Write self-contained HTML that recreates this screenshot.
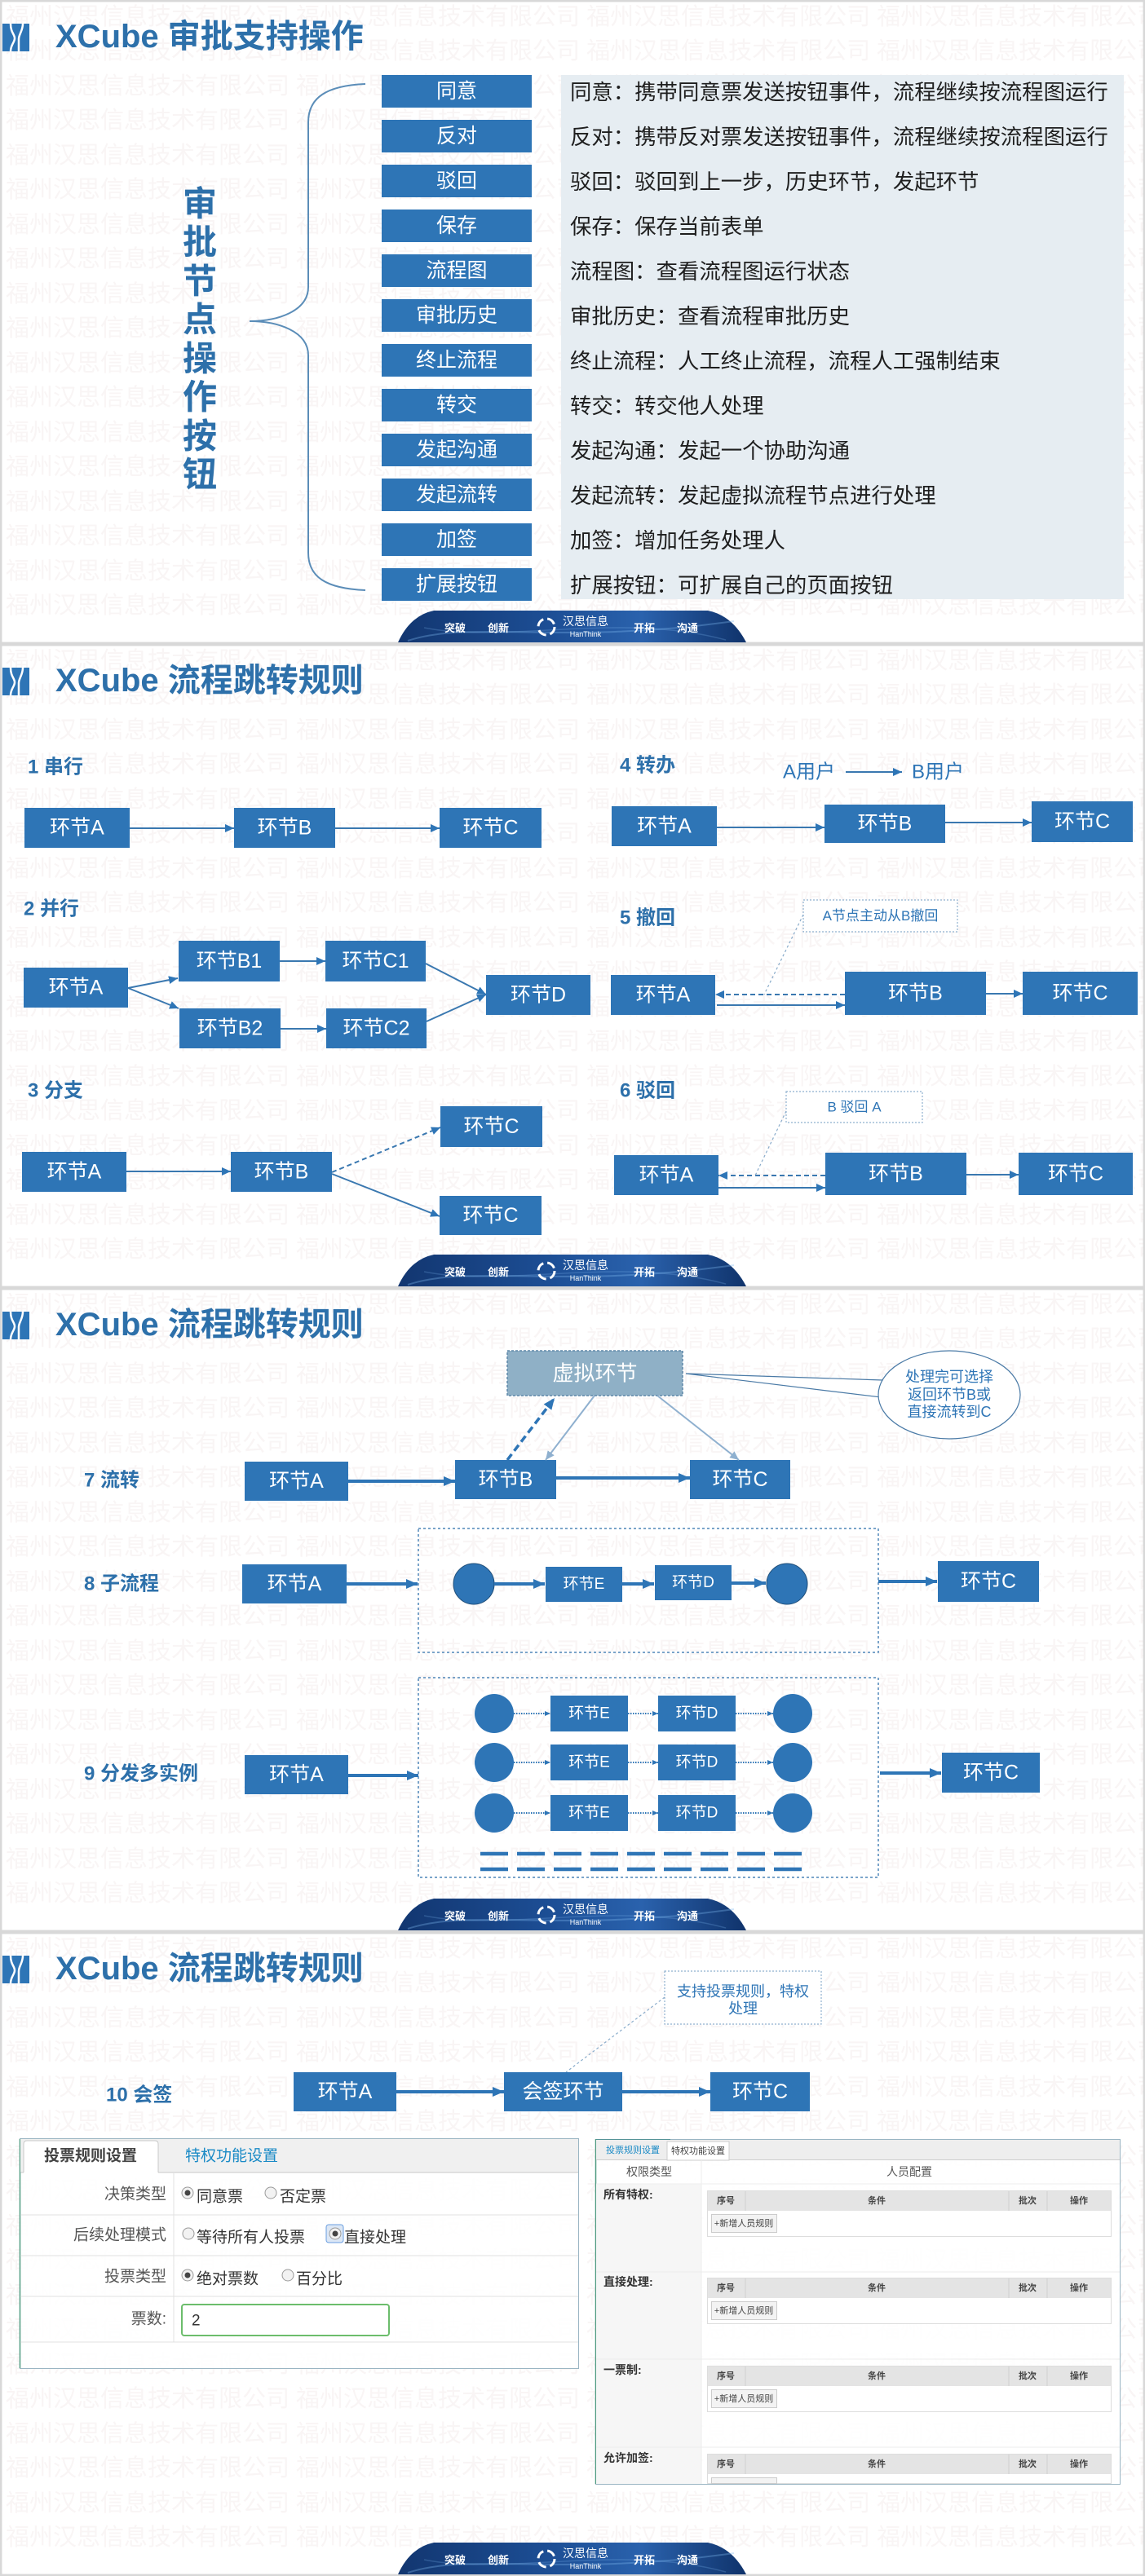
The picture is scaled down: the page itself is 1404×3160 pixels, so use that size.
<!DOCTYPE html>
<html><head><meta charset="utf-8">
<style>
html,body{margin:0;padding:0;background:#fff;}
body{width:1404px;height:3160px;overflow:hidden;}
svg{display:block;}
text{font-family:"Liberation Sans","Noto Sans CJK SC",sans-serif;}
.wm{font-size:29px;fill:#f9f5f5;}
.ttl{font-size:40px;font-weight:bold;fill:#2D70AA;}
.sec{font-size:24px;font-weight:bold;fill:#2D70AA;}
.bx{fill:#2E75B6;}
.bt{font-size:25px;fill:#fff;text-anchor:middle;}
.bts{font-size:19px;fill:#fff;text-anchor:middle;}
.ln{stroke:#3A78B0;stroke-width:2;fill:none;}
.lnT{stroke:#2E75B6;stroke-width:4;fill:none;}
.lnD{stroke:#3A78B0;stroke-width:2;fill:none;stroke-dasharray:6,4;}
.lead{stroke:#8aaccb;stroke-width:1.2;fill:none;stroke-dasharray:3,3;}
.call{fill:#fff;stroke:#8fb0cf;stroke-width:1.2;stroke-dasharray:2,2;}
.ct{font-size:17px;fill:#2E75B6;text-anchor:middle;}
.pt{font-size:26.4px;fill:#1e1e1e;}
.ft{font-size:13px;font-weight:bold;fill:#fff;text-anchor:middle;}
.fl{font-size:19px;fill:#555;}
.fs{font-size:11px;fill:#444;}
</style></head><body>
<svg width="1404" height="3160" viewBox="0 0 1404 3160" xmlns="http://www.w3.org/2000/svg">
<defs>
<marker id="ah" markerUnits="userSpaceOnUse" markerWidth="11" markerHeight="10" refX="11" refY="5" orient="auto" viewBox="0 0 11 10"><path d="M0,0 L11,5 L0,10 z" fill="#2E75B6"/></marker>
<marker id="ahL" markerUnits="userSpaceOnUse" markerWidth="14" markerHeight="12" refX="14" refY="6" orient="auto" viewBox="0 0 14 12"><path d="M0,0 L14,6 L0,12 z" fill="#2E75B6"/></marker>
<marker id="ahG" markerUnits="userSpaceOnUse" markerWidth="11" markerHeight="10" refX="11" refY="5" orient="auto" viewBox="0 0 11 10"><path d="M0,0 L11,5 L0,10 z" fill="#8fb0cf"/></marker>
<marker id="ahS" markerUnits="userSpaceOnUse" markerWidth="7" markerHeight="6" refX="7" refY="3" orient="auto" viewBox="0 0 7 6"><path d="M0,0 L7,3 L0,6 z" fill="#2E75B6"/></marker>
<linearGradient id="fg" x1="0" y1="0" x2="1" y2="0">
<stop offset="0" stop-color="#123670"/><stop offset="0.45" stop-color="#1d4f96"/><stop offset="0.7" stop-color="#2a62ad"/><stop offset="1" stop-color="#10336b"/>
</linearGradient>
</defs>

<!-- ================= SLIDE 1 ================= -->
<g transform="translate(0,0)">
<text class="wm" x="7" y="30">福州汉思信息技术有限公司  福州汉思信息技术有限公司  福州汉思信息技术有限公司  福州汉思信息技术有限公司</text>
<text class="wm" x="7" y="72">福州汉思信息技术有限公司  福州汉思信息技术有限公司  福州汉思信息技术有限公司  福州汉思信息技术有限公司</text>
<text class="wm" x="7" y="115">福州汉思信息技术有限公司  福州汉思信息技术有限公司  福州汉思信息技术有限公司  福州汉思信息技术有限公司</text>
<text class="wm" x="7" y="157">福州汉思信息技术有限公司  福州汉思信息技术有限公司  福州汉思信息技术有限公司  福州汉思信息技术有限公司</text>
<text class="wm" x="7" y="200">福州汉思信息技术有限公司  福州汉思信息技术有限公司  福州汉思信息技术有限公司  福州汉思信息技术有限公司</text>
<text class="wm" x="7" y="242">福州汉思信息技术有限公司  福州汉思信息技术有限公司  福州汉思信息技术有限公司  福州汉思信息技术有限公司</text>
<text class="wm" x="7" y="285">福州汉思信息技术有限公司  福州汉思信息技术有限公司  福州汉思信息技术有限公司  福州汉思信息技术有限公司</text>
<text class="wm" x="7" y="327">福州汉思信息技术有限公司  福州汉思信息技术有限公司  福州汉思信息技术有限公司  福州汉思信息技术有限公司</text>
<text class="wm" x="7" y="370">福州汉思信息技术有限公司  福州汉思信息技术有限公司  福州汉思信息技术有限公司  福州汉思信息技术有限公司</text>
<text class="wm" x="7" y="412">福州汉思信息技术有限公司  福州汉思信息技术有限公司  福州汉思信息技术有限公司  福州汉思信息技术有限公司</text>
<text class="wm" x="7" y="455">福州汉思信息技术有限公司  福州汉思信息技术有限公司  福州汉思信息技术有限公司  福州汉思信息技术有限公司</text>
<text class="wm" x="7" y="497">福州汉思信息技术有限公司  福州汉思信息技术有限公司  福州汉思信息技术有限公司  福州汉思信息技术有限公司</text>
<text class="wm" x="7" y="540">福州汉思信息技术有限公司  福州汉思信息技术有限公司  福州汉思信息技术有限公司  福州汉思信息技术有限公司</text>
<text class="wm" x="7" y="582">福州汉思信息技术有限公司  福州汉思信息技术有限公司  福州汉思信息技术有限公司  福州汉思信息技术有限公司</text>
<text class="wm" x="7" y="625">福州汉思信息技术有限公司  福州汉思信息技术有限公司  福州汉思信息技术有限公司  福州汉思信息技术有限公司</text>
<text class="wm" x="7" y="667">福州汉思信息技术有限公司  福州汉思信息技术有限公司  福州汉思信息技术有限公司  福州汉思信息技术有限公司</text>
<text class="wm" x="7" y="710">福州汉思信息技术有限公司  福州汉思信息技术有限公司  福州汉思信息技术有限公司  福州汉思信息技术有限公司</text>
<text class="wm" x="7" y="752">福州汉思信息技术有限公司  福州汉思信息技术有限公司  福州汉思信息技术有限公司  福州汉思信息技术有限公司</text>
<rect x="1.2" y="1.2" width="1401.6" height="787.6" fill="none" stroke="#d8d8d8" stroke-width="2.5"/>
<rect x="3" y="29" width="33" height="34" fill="#2E75B6"/>
<path d="M13,29 C13,40 18,42 18,47 C18,52 13,55 13,63" stroke="#fff" stroke-width="2.5" fill="none"/>
<path d="M28,29 C28,38 23,42 23,48 L23,63" stroke="#fff" stroke-width="2.5" fill="none"/>
<text class="ttl" x="68" y="58">XCube 审批支持操作</text>

<g style="font-size:42px;font-weight:bold;fill:#2D70AA;text-anchor:middle;" dominant-baseline="central">
<text x="245" y="250">审</text><text x="245" y="297">批</text><text x="245" y="345">节</text><text x="245" y="392">点</text>
<text x="245" y="440">操</text><text x="245" y="487">作</text><text x="245" y="535">按</text><text x="245" y="582">钮</text>
</g>
<path d="M448,103 C400,105 378,120 378,150 L378,352 C378,382 340,394 306,394 C340,394 378,406 378,436 L378,678 C378,708 400,722 448,724" stroke="#5b8db8" stroke-width="2" fill="none"/>

<g dominant-baseline="central">
<rect class="bx" x="468" y="92" width="184" height="40"/><text class="bt" x="560" y="112">同意</text>
<rect class="bx" x="468" y="147" width="184" height="40"/><text class="bt" x="560" y="167">反对</text>
<rect class="bx" x="468" y="202" width="184" height="40"/><text class="bt" x="560" y="222">驳回</text>
<rect class="bx" x="468" y="257" width="184" height="40"/><text class="bt" x="560" y="277">保存</text>
<rect class="bx" x="468" y="312" width="184" height="40"/><text class="bt" x="560" y="332">流程图</text>
<rect class="bx" x="468" y="367" width="184" height="40"/><text class="bt" x="560" y="387">审批历史</text>
<rect class="bx" x="468" y="422" width="184" height="40"/><text class="bt" x="560" y="442">终止流程</text>
<rect class="bx" x="468" y="477" width="184" height="40"/><text class="bt" x="560" y="497">转交</text>
<rect class="bx" x="468" y="532" width="184" height="40"/><text class="bt" x="560" y="552">发起沟通</text>
<rect class="bx" x="468" y="587" width="184" height="40"/><text class="bt" x="560" y="607">发起流转</text>
<rect class="bx" x="468" y="642" width="184" height="40"/><text class="bt" x="560" y="662">加签</text>
<rect class="bx" x="468" y="697" width="184" height="40"/><text class="bt" x="560" y="717">扩展按钮</text>
</g>
<rect x="688" y="92" width="690" height="643" fill="#e5ecf1" fill-opacity="0.95"/>
<g dominant-baseline="central">
<text class="pt" x="699" y="113">同意：携带同意票发送按钮事件，流程继续按流程图运行</text>
<text class="pt" x="699" y="168">反对：携带反对票发送按钮事件，流程继续按流程图运行</text>
<text class="pt" x="699" y="223">驳回：驳回到上一步，历史环节，发起环节</text>
<text class="pt" x="699" y="278">保存：保存当前表单</text>
<text class="pt" x="699" y="333">流程图：查看流程图运行状态</text>
<text class="pt" x="699" y="388">审批历史：查看流程审批历史</text>
<text class="pt" x="699" y="443">终止流程：人工终止流程，流程人工强制结束</text>
<text class="pt" x="699" y="498">转交：转交他人处理</text>
<text class="pt" x="699" y="553">发起沟通：发起一个协助沟通</text>
<text class="pt" x="699" y="608">发起流转：发起虚拟流程节点进行处理</text>
<text class="pt" x="699" y="663">加签：增加任务处理人</text>
<text class="pt" x="699" y="718">扩展按钮：可扩展自己的页面按钮</text>
</g>
<!-- footer -->
<path d="M488,788 Q503,755 532,749 L868,749 Q898,755 915,788 Z" fill="url(#fg)"/>
<path d="M500,786 C580,760 690,792 900,762" stroke="#7fb6ee" stroke-opacity="0.35" stroke-width="2" fill="none"/>
<path d="M520,770 C620,790 760,750 890,785" stroke="#7fb6ee" stroke-opacity="0.25" stroke-width="1.5" fill="none"/>
<text class="ft" x="558" y="775">突破</text><text class="ft" x="611" y="775">创新</text>
<circle cx="670" cy="769" r="10" fill="none" stroke="#fff" stroke-width="3" stroke-dasharray="11,5"/>
<text x="718" y="767" style="font-size:14px;fill:#fff;text-anchor:middle;">汉思信息</text>
<text x="718" y="781" style="font-size:9px;fill:#fff;text-anchor:middle;">HanThink</text>
<text class="ft" x="790" y="775">开拓</text><text class="ft" x="843" y="775">沟通</text>
</g>

<!-- ================= SLIDE 2 ================= -->
<g transform="translate(0,790)">
<text class="wm" x="7" y="30">福州汉思信息技术有限公司  福州汉思信息技术有限公司  福州汉思信息技术有限公司  福州汉思信息技术有限公司</text>
<text class="wm" x="7" y="72">福州汉思信息技术有限公司  福州汉思信息技术有限公司  福州汉思信息技术有限公司  福州汉思信息技术有限公司</text>
<text class="wm" x="7" y="115">福州汉思信息技术有限公司  福州汉思信息技术有限公司  福州汉思信息技术有限公司  福州汉思信息技术有限公司</text>
<text class="wm" x="7" y="157">福州汉思信息技术有限公司  福州汉思信息技术有限公司  福州汉思信息技术有限公司  福州汉思信息技术有限公司</text>
<text class="wm" x="7" y="200">福州汉思信息技术有限公司  福州汉思信息技术有限公司  福州汉思信息技术有限公司  福州汉思信息技术有限公司</text>
<text class="wm" x="7" y="242">福州汉思信息技术有限公司  福州汉思信息技术有限公司  福州汉思信息技术有限公司  福州汉思信息技术有限公司</text>
<text class="wm" x="7" y="285">福州汉思信息技术有限公司  福州汉思信息技术有限公司  福州汉思信息技术有限公司  福州汉思信息技术有限公司</text>
<text class="wm" x="7" y="327">福州汉思信息技术有限公司  福州汉思信息技术有限公司  福州汉思信息技术有限公司  福州汉思信息技术有限公司</text>
<text class="wm" x="7" y="370">福州汉思信息技术有限公司  福州汉思信息技术有限公司  福州汉思信息技术有限公司  福州汉思信息技术有限公司</text>
<text class="wm" x="7" y="412">福州汉思信息技术有限公司  福州汉思信息技术有限公司  福州汉思信息技术有限公司  福州汉思信息技术有限公司</text>
<text class="wm" x="7" y="455">福州汉思信息技术有限公司  福州汉思信息技术有限公司  福州汉思信息技术有限公司  福州汉思信息技术有限公司</text>
<text class="wm" x="7" y="497">福州汉思信息技术有限公司  福州汉思信息技术有限公司  福州汉思信息技术有限公司  福州汉思信息技术有限公司</text>
<text class="wm" x="7" y="540">福州汉思信息技术有限公司  福州汉思信息技术有限公司  福州汉思信息技术有限公司  福州汉思信息技术有限公司</text>
<text class="wm" x="7" y="582">福州汉思信息技术有限公司  福州汉思信息技术有限公司  福州汉思信息技术有限公司  福州汉思信息技术有限公司</text>
<text class="wm" x="7" y="625">福州汉思信息技术有限公司  福州汉思信息技术有限公司  福州汉思信息技术有限公司  福州汉思信息技术有限公司</text>
<text class="wm" x="7" y="667">福州汉思信息技术有限公司  福州汉思信息技术有限公司  福州汉思信息技术有限公司  福州汉思信息技术有限公司</text>
<text class="wm" x="7" y="710">福州汉思信息技术有限公司  福州汉思信息技术有限公司  福州汉思信息技术有限公司  福州汉思信息技术有限公司</text>
<text class="wm" x="7" y="752">福州汉思信息技术有限公司  福州汉思信息技术有限公司  福州汉思信息技术有限公司  福州汉思信息技术有限公司</text>
<rect x="1.2" y="1.2" width="1401.6" height="787.6" fill="none" stroke="#d8d8d8" stroke-width="2.5"/>
<rect x="3" y="29" width="33" height="34" fill="#2E75B6"/>
<path d="M13,29 C13,40 18,42 18,47 C18,52 13,55 13,63" stroke="#fff" stroke-width="2.5" fill="none"/>
<path d="M28,29 C28,38 23,42 23,48 L23,63" stroke="#fff" stroke-width="2.5" fill="none"/>
<text class="ttl" x="68" y="58">XCube 流程跳转规则</text>

<g dominant-baseline="central">
<text class="sec" x="34" y="151">1 串行</text>
<text class="sec" x="29" y="325">2 并行</text>
<text class="sec" x="34" y="548">3 分支</text>
<text class="sec" x="760" y="149">4 转办</text>
<text class="sec" x="760" y="336">5 撤回</text>
<text class="sec" x="760" y="548">6 驳回</text>

<rect class="bx" x="30" y="201" width="129" height="49"/><text class="bt" x="94.5" y="225.5">环节A</text>
<rect class="bx" x="287" y="201" width="124" height="49"/><text class="bt" x="349" y="225.5">环节B</text>
<rect class="bx" x="539" y="201" width="125" height="49"/><text class="bt" x="601.5" y="225.5">环节C</text>

<rect class="bx" x="29" y="397" width="128" height="49"/><text class="bt" x="93" y="421.5">环节A</text>
<rect class="bx" x="219" y="364" width="124" height="50"/><text class="bt" x="281" y="389">环节B1</text>
<rect class="bx" x="220" y="447" width="124" height="49"/><text class="bt" x="282" y="471.5">环节B2</text>
<rect class="bx" x="399" y="364" width="123" height="50"/><text class="bt" x="460.5" y="389">环节C1</text>
<rect class="bx" x="400" y="447" width="123" height="49"/><text class="bt" x="461.5" y="471.5">环节C2</text>
<rect class="bx" x="596" y="406" width="128" height="49"/><text class="bt" x="660" y="430.5">环节D</text>

<rect class="bx" x="27" y="623" width="128" height="49"/><text class="bt" x="91" y="647.5">环节A</text>
<rect class="bx" x="283" y="623" width="124" height="49"/><text class="bt" x="345" y="647.5">环节B</text>
<rect class="bx" x="540" y="567" width="125" height="50"/><text class="bt" x="602.5" y="592">环节C</text>
<rect class="bx" x="539" y="677" width="125" height="48"/><text class="bt" x="601.5" y="701">环节C</text>

<text x="960" y="157" style="font-size:24px;fill:#2E75B6;">A用户</text>
<text x="1118" y="157" style="font-size:24px;fill:#2E75B6;">B用户</text>
<rect class="bx" x="750" y="199" width="129" height="49"/><text class="bt" x="814.5" y="223.5">环节A</text>
<rect class="bx" x="1011" y="197" width="148" height="47"/><text class="bt" x="1085" y="220.5">环节B</text>
<rect class="bx" x="1265" y="193" width="124" height="50"/><text class="bt" x="1327" y="218">环节C</text>

<rect class="call" x="985" y="314" width="189" height="39"/><text class="ct" x="1079.5" y="333.5">A节点主动从B撤回</text>
<rect class="bx" x="749" y="406" width="128" height="49"/><text class="bt" x="813" y="430.5">环节A</text>
<rect class="bx" x="1036" y="402" width="173" height="53"/><text class="bt" x="1122.5" y="428.5">环节B</text>
<rect class="bx" x="1254" y="402" width="141" height="53"/><text class="bt" x="1324.5" y="428.5">环节C</text>

<rect class="call" x="964" y="549" width="167" height="38"/><text class="ct" x="1047.5" y="568">B 驳回 A</text>
<rect class="bx" x="753" y="627" width="128" height="49"/><text class="bt" x="817" y="651.5">环节A</text>
<rect class="bx" x="1012" y="624" width="173" height="52"/><text class="bt" x="1098.5" y="650">环节B</text>
<rect class="bx" x="1249" y="624" width="140" height="52"/><text class="bt" x="1319" y="650">环节C</text>
</g>
<line class="ln" x1="159" y1="226" x2="287" y2="226" marker-end="url(#ah)"/>
<line class="ln" x1="411" y1="226" x2="539" y2="226" marker-end="url(#ah)"/>
<line class="ln" x1="157" y1="422" x2="218" y2="410" marker-end="url(#ah)"/>
<line class="ln" x1="157" y1="422" x2="219" y2="447" marker-end="url(#ah)"/>
<line class="ln" x1="343" y1="389" x2="399" y2="389" marker-end="url(#ah)"/>
<line class="ln" x1="344" y1="472" x2="400" y2="472" marker-end="url(#ah)"/>
<line class="ln" x1="522" y1="392" x2="596" y2="430" marker-end="url(#ah)"/>
<line class="ln" x1="523" y1="463" x2="596" y2="430" marker-end="url(#ah)"/>
<line class="ln" x1="155" y1="647" x2="283" y2="647" marker-end="url(#ah)"/>
<line class="lnD" x1="407" y1="648" x2="540" y2="593" marker-end="url(#ah)"/>
<line class="ln" x1="407" y1="650" x2="539" y2="702" marker-end="url(#ah)"/>
<line class="ln" x1="1037" y1="157" x2="1106" y2="157" marker-end="url(#ah)"/>
<line class="ln" x1="879" y1="225" x2="1011" y2="225" marker-end="url(#ah)"/>
<line class="ln" x1="1159" y1="219" x2="1265" y2="219" marker-end="url(#ah)"/>
<line class="lnD" x1="1036" y1="430" x2="877" y2="430" marker-end="url(#ah)"/>
<line class="ln" x1="879" y1="443" x2="1036" y2="443" marker-end="url(#ah)"/>
<line class="ln" x1="1209" y1="429" x2="1254" y2="429" marker-end="url(#ah)"/>
<line class="lead" x1="985" y1="332" x2="937" y2="430"/>
<line class="lnD" x1="1012" y1="652" x2="881" y2="652" marker-end="url(#ah)"/>
<line class="ln" x1="881" y1="667" x2="1012" y2="667" marker-end="url(#ah)"/>
<line class="ln" x1="1185" y1="651" x2="1249" y2="651" marker-end="url(#ah)"/>
<line class="lead" x1="964" y1="573" x2="926" y2="652"/>
<path d="M488,788 Q503,755 532,749 L868,749 Q898,755 915,788 Z" fill="url(#fg)"/>
<path d="M500,786 C580,760 690,792 900,762" stroke="#7fb6ee" stroke-opacity="0.35" stroke-width="2" fill="none"/>
<path d="M520,770 C620,790 760,750 890,785" stroke="#7fb6ee" stroke-opacity="0.25" stroke-width="1.5" fill="none"/>
<text class="ft" x="558" y="775">突破</text><text class="ft" x="611" y="775">创新</text>
<circle cx="670" cy="769" r="10" fill="none" stroke="#fff" stroke-width="3" stroke-dasharray="11,5"/>
<text x="718" y="767" style="font-size:14px;fill:#fff;text-anchor:middle;">汉思信息</text>
<text x="718" y="781" style="font-size:9px;fill:#fff;text-anchor:middle;">HanThink</text>
<text class="ft" x="790" y="775">开拓</text><text class="ft" x="843" y="775">沟通</text>
</g>

<!-- ================= SLIDE 3 ================= -->
<g transform="translate(0,1580)">
<text class="wm" x="7" y="30">福州汉思信息技术有限公司  福州汉思信息技术有限公司  福州汉思信息技术有限公司  福州汉思信息技术有限公司</text>
<text class="wm" x="7" y="72">福州汉思信息技术有限公司  福州汉思信息技术有限公司  福州汉思信息技术有限公司  福州汉思信息技术有限公司</text>
<text class="wm" x="7" y="115">福州汉思信息技术有限公司  福州汉思信息技术有限公司  福州汉思信息技术有限公司  福州汉思信息技术有限公司</text>
<text class="wm" x="7" y="157">福州汉思信息技术有限公司  福州汉思信息技术有限公司  福州汉思信息技术有限公司  福州汉思信息技术有限公司</text>
<text class="wm" x="7" y="200">福州汉思信息技术有限公司  福州汉思信息技术有限公司  福州汉思信息技术有限公司  福州汉思信息技术有限公司</text>
<text class="wm" x="7" y="242">福州汉思信息技术有限公司  福州汉思信息技术有限公司  福州汉思信息技术有限公司  福州汉思信息技术有限公司</text>
<text class="wm" x="7" y="285">福州汉思信息技术有限公司  福州汉思信息技术有限公司  福州汉思信息技术有限公司  福州汉思信息技术有限公司</text>
<text class="wm" x="7" y="327">福州汉思信息技术有限公司  福州汉思信息技术有限公司  福州汉思信息技术有限公司  福州汉思信息技术有限公司</text>
<text class="wm" x="7" y="370">福州汉思信息技术有限公司  福州汉思信息技术有限公司  福州汉思信息技术有限公司  福州汉思信息技术有限公司</text>
<text class="wm" x="7" y="412">福州汉思信息技术有限公司  福州汉思信息技术有限公司  福州汉思信息技术有限公司  福州汉思信息技术有限公司</text>
<text class="wm" x="7" y="455">福州汉思信息技术有限公司  福州汉思信息技术有限公司  福州汉思信息技术有限公司  福州汉思信息技术有限公司</text>
<text class="wm" x="7" y="497">福州汉思信息技术有限公司  福州汉思信息技术有限公司  福州汉思信息技术有限公司  福州汉思信息技术有限公司</text>
<text class="wm" x="7" y="540">福州汉思信息技术有限公司  福州汉思信息技术有限公司  福州汉思信息技术有限公司  福州汉思信息技术有限公司</text>
<text class="wm" x="7" y="582">福州汉思信息技术有限公司  福州汉思信息技术有限公司  福州汉思信息技术有限公司  福州汉思信息技术有限公司</text>
<text class="wm" x="7" y="625">福州汉思信息技术有限公司  福州汉思信息技术有限公司  福州汉思信息技术有限公司  福州汉思信息技术有限公司</text>
<text class="wm" x="7" y="667">福州汉思信息技术有限公司  福州汉思信息技术有限公司  福州汉思信息技术有限公司  福州汉思信息技术有限公司</text>
<text class="wm" x="7" y="710">福州汉思信息技术有限公司  福州汉思信息技术有限公司  福州汉思信息技术有限公司  福州汉思信息技术有限公司</text>
<text class="wm" x="7" y="752">福州汉思信息技术有限公司  福州汉思信息技术有限公司  福州汉思信息技术有限公司  福州汉思信息技术有限公司</text>
<rect x="1.2" y="1.2" width="1401.6" height="787.6" fill="none" stroke="#d8d8d8" stroke-width="2.5"/>
<rect x="3" y="29" width="33" height="34" fill="#2E75B6"/>
<path d="M13,29 C13,40 18,42 18,47 C18,52 13,55 13,63" stroke="#fff" stroke-width="2.5" fill="none"/>
<path d="M28,29 C28,38 23,42 23,48 L23,63" stroke="#fff" stroke-width="2.5" fill="none"/>
<text class="ttl" x="68" y="58">XCube 流程跳转规则</text>

<rect x="513" y="295" width="564" height="152" fill="none" stroke="#4f86b8" stroke-width="1.5" stroke-dasharray="3,3"/>
<rect x="513" y="478" width="564" height="245" fill="none" stroke="#4f86b8" stroke-width="1.5" stroke-dasharray="3,3"/>

<path d="M841,105 L1082,113 L1080,134 Z" fill="#fff" stroke="#4a7aa6" stroke-width="1.2"/>
<ellipse cx="1164" cy="131" rx="87" ry="54" fill="#fff" stroke="#4a7aa6" stroke-width="1.2"/>
<rect x="622" y="77" width="215" height="55" fill="#8fb0c6" stroke="#5f87a8" stroke-width="1.5" stroke-dasharray="3,2"/>

<g dominant-baseline="central">
<text x="729.5" y="104.5" style="font-size:26px;fill:#fff;text-anchor:middle;">虚拟环节</text>
<text x="1164" y="109" style="font-size:18px;fill:#2E75B6;text-anchor:middle;">处理完可选择</text>
<text x="1164" y="131" style="font-size:18px;fill:#2E75B6;text-anchor:middle;">返回环节B或</text>
<text x="1164" y="152" style="font-size:18px;fill:#2E75B6;text-anchor:middle;">直接流转到C</text>

<text class="sec" x="103" y="236">7 流转</text>
<text class="sec" x="103" y="363">8 子流程</text>
<text class="sec" x="103" y="596">9 分发多实例</text>

<rect class="bx" x="300" y="213" width="127" height="48"/><text class="bt" x="363.5" y="237">环节A</text>
<rect class="bx" x="558" y="211" width="124" height="48"/><text class="bt" x="620" y="235">环节B</text>
<rect class="bx" x="846" y="211" width="123" height="48"/><text class="bt" x="907.5" y="235">环节C</text>

<rect class="bx" x="297" y="339" width="128" height="48"/><text class="bt" x="361" y="363">环节A</text>
<circle cx="581" cy="363" r="25" fill="#2E75B6" stroke="#1f4e79" stroke-width="1"/>
<rect class="bx" x="669" y="342" width="94" height="43"/><text class="bts" x="716" y="363.5">环节E</text>
<rect class="bx" x="803" y="340" width="94" height="43"/><text class="bts" x="850" y="361.5">环节D</text>
<circle cx="965" cy="363" r="25" fill="#2E75B6" stroke="#1f4e79" stroke-width="1"/>
<rect class="bx" x="1150" y="335" width="124" height="50"/><text class="bt" x="1212" y="360">环节C</text>

<rect class="bx" x="300" y="573" width="127" height="48"/><text class="bt" x="363.5" y="597">环节A</text>
<rect class="bx" x="1155" y="570" width="120" height="49"/><text class="bt" x="1215" y="594.5">环节C</text>

<circle cx="606" cy="522" r="24" fill="#2E75B6"/>
<rect class="bx" x="675" y="500" width="95" height="44"/><text class="bts" x="722.5" y="522">环节E</text>
<rect class="bx" x="807" y="500" width="95" height="44"/><text class="bts" x="854.5" y="522">环节D</text>
<circle cx="972" cy="522" r="24" fill="#2E75B6"/>

<circle cx="606" cy="582" r="24" fill="#2E75B6"/>
<rect class="bx" x="675" y="560" width="95" height="44"/><text class="bts" x="722.5" y="582">环节E</text>
<rect class="bx" x="807" y="560" width="95" height="44"/><text class="bts" x="854.5" y="582">环节D</text>
<circle cx="972" cy="582" r="24" fill="#2E75B6"/>

<circle cx="606" cy="644" r="24" fill="#2E75B6"/>
<rect class="bx" x="675" y="622" width="95" height="44"/><text class="bts" x="722.5" y="644">环节E</text>
<rect class="bx" x="807" y="622" width="95" height="44"/><text class="bts" x="854.5" y="644">环节D</text>
<circle cx="972" cy="644" r="24" fill="#2E75B6"/>
</g>

<line class="lnT" x1="427" y1="237" x2="558" y2="237" marker-end="url(#ahL)"/>
<line class="lnT" x1="682" y1="233" x2="846" y2="233" marker-end="url(#ahL)"/>
<line x1="622" y1="211" x2="680" y2="135" stroke="#2E75B6" stroke-width="3.5" stroke-dasharray="9,5" marker-end="url(#ahL)"/>
<line x1="729" y1="132" x2="669" y2="211" stroke="#8fb0cf" stroke-width="2" marker-end="url(#ahG)"/>
<line x1="806" y1="132" x2="906" y2="211" stroke="#8fb0cf" stroke-width="2" marker-end="url(#ahG)"/>

<line class="lnT" x1="425" y1="363" x2="512" y2="363" marker-end="url(#ahL)"/>
<line class="lnT" x1="606" y1="363" x2="668" y2="363" marker-end="url(#ahL)"/>
<line class="lnT" x1="763" y1="363" x2="802" y2="363" marker-end="url(#ahL)"/>
<line class="lnT" x1="897" y1="362" x2="939" y2="362" marker-end="url(#ahL)"/>
<line class="lnT" x1="1077" y1="360" x2="1149" y2="360" marker-end="url(#ahL)"/>

<line class="lnT" x1="427" y1="598" x2="513" y2="598" marker-end="url(#ahL)"/>
<line class="lnT" x1="1079" y1="595" x2="1154" y2="595" marker-end="url(#ahL)"/>

<g stroke="#2E75B6" stroke-width="2" stroke-dasharray="1.5,1.5" fill="none">
<line x1="630" y1="522" x2="675" y2="522" marker-end="url(#ahS)"/>
<line x1="770" y1="522" x2="807" y2="522" marker-end="url(#ahS)"/>
<line x1="902" y1="522" x2="948" y2="522" marker-end="url(#ahS)"/>
<line x1="630" y1="582" x2="675" y2="582" marker-end="url(#ahS)"/>
<line x1="770" y1="582" x2="807" y2="582" marker-end="url(#ahS)"/>
<line x1="902" y1="582" x2="948" y2="582" marker-end="url(#ahS)"/>
<line x1="630" y1="644" x2="675" y2="644" marker-end="url(#ahS)"/>
<line x1="770" y1="644" x2="807" y2="644" marker-end="url(#ahS)"/>
<line x1="902" y1="644" x2="948" y2="644" marker-end="url(#ahS)"/>
</g>
<line x1="589" y1="694" x2="991" y2="694" stroke="#2E75B6" stroke-width="4.5" stroke-dasharray="34,11"/>
<line x1="589" y1="713" x2="991" y2="713" stroke="#2E75B6" stroke-width="4.5" stroke-dasharray="34,11"/>

<path d="M488,788 Q503,755 532,749 L868,749 Q898,755 915,788 Z" fill="url(#fg)"/>
<path d="M500,786 C580,760 690,792 900,762" stroke="#7fb6ee" stroke-opacity="0.35" stroke-width="2" fill="none"/>
<path d="M520,770 C620,790 760,750 890,785" stroke="#7fb6ee" stroke-opacity="0.25" stroke-width="1.5" fill="none"/>
<text class="ft" x="558" y="775">突破</text><text class="ft" x="611" y="775">创新</text>
<circle cx="670" cy="769" r="10" fill="none" stroke="#fff" stroke-width="3" stroke-dasharray="11,5"/>
<text x="718" y="767" style="font-size:14px;fill:#fff;text-anchor:middle;">汉思信息</text>
<text x="718" y="781" style="font-size:9px;fill:#fff;text-anchor:middle;">HanThink</text>
<text class="ft" x="790" y="775">开拓</text><text class="ft" x="843" y="775">沟通</text>
</g>

<!-- ================= SLIDE 4 ================= -->
<g transform="translate(0,2370)">
<text class="wm" x="7" y="30">福州汉思信息技术有限公司  福州汉思信息技术有限公司  福州汉思信息技术有限公司  福州汉思信息技术有限公司</text>
<text class="wm" x="7" y="72">福州汉思信息技术有限公司  福州汉思信息技术有限公司  福州汉思信息技术有限公司  福州汉思信息技术有限公司</text>
<text class="wm" x="7" y="115">福州汉思信息技术有限公司  福州汉思信息技术有限公司  福州汉思信息技术有限公司  福州汉思信息技术有限公司</text>
<text class="wm" x="7" y="157">福州汉思信息技术有限公司  福州汉思信息技术有限公司  福州汉思信息技术有限公司  福州汉思信息技术有限公司</text>
<text class="wm" x="7" y="200">福州汉思信息技术有限公司  福州汉思信息技术有限公司  福州汉思信息技术有限公司  福州汉思信息技术有限公司</text>
<text class="wm" x="7" y="242">福州汉思信息技术有限公司  福州汉思信息技术有限公司  福州汉思信息技术有限公司  福州汉思信息技术有限公司</text>
<text class="wm" x="7" y="285">福州汉思信息技术有限公司  福州汉思信息技术有限公司  福州汉思信息技术有限公司  福州汉思信息技术有限公司</text>
<text class="wm" x="7" y="327">福州汉思信息技术有限公司  福州汉思信息技术有限公司  福州汉思信息技术有限公司  福州汉思信息技术有限公司</text>
<text class="wm" x="7" y="370">福州汉思信息技术有限公司  福州汉思信息技术有限公司  福州汉思信息技术有限公司  福州汉思信息技术有限公司</text>
<text class="wm" x="7" y="412">福州汉思信息技术有限公司  福州汉思信息技术有限公司  福州汉思信息技术有限公司  福州汉思信息技术有限公司</text>
<text class="wm" x="7" y="455">福州汉思信息技术有限公司  福州汉思信息技术有限公司  福州汉思信息技术有限公司  福州汉思信息技术有限公司</text>
<text class="wm" x="7" y="497">福州汉思信息技术有限公司  福州汉思信息技术有限公司  福州汉思信息技术有限公司  福州汉思信息技术有限公司</text>
<text class="wm" x="7" y="540">福州汉思信息技术有限公司  福州汉思信息技术有限公司  福州汉思信息技术有限公司  福州汉思信息技术有限公司</text>
<text class="wm" x="7" y="582">福州汉思信息技术有限公司  福州汉思信息技术有限公司  福州汉思信息技术有限公司  福州汉思信息技术有限公司</text>
<text class="wm" x="7" y="625">福州汉思信息技术有限公司  福州汉思信息技术有限公司  福州汉思信息技术有限公司  福州汉思信息技术有限公司</text>
<text class="wm" x="7" y="667">福州汉思信息技术有限公司  福州汉思信息技术有限公司  福州汉思信息技术有限公司  福州汉思信息技术有限公司</text>
<text class="wm" x="7" y="710">福州汉思信息技术有限公司  福州汉思信息技术有限公司  福州汉思信息技术有限公司  福州汉思信息技术有限公司</text>
<text class="wm" x="7" y="752">福州汉思信息技术有限公司  福州汉思信息技术有限公司  福州汉思信息技术有限公司  福州汉思信息技术有限公司</text>
<rect x="1.2" y="1.2" width="1401.6" height="787.6" fill="none" stroke="#d8d8d8" stroke-width="2.5"/>
<rect x="3" y="29" width="33" height="34" fill="#2E75B6"/>
<path d="M13,29 C13,40 18,42 18,47 C18,52 13,55 13,63" stroke="#fff" stroke-width="2.5" fill="none"/>
<path d="M28,29 C28,38 23,42 23,48 L23,63" stroke="#fff" stroke-width="2.5" fill="none"/>
<text class="ttl" x="68" y="58">XCube 流程跳转规则</text>

<rect class="call" x="815" y="48" width="192" height="65"/>
<line class="lead" x1="815" y1="80" x2="694" y2="172"/>
<line class="lnT" x1="486" y1="196" x2="618" y2="196" marker-end="url(#ahL)"/>
<line class="lnT" x1="763" y1="196" x2="871" y2="196" marker-end="url(#ahL)"/>
<g dominant-baseline="central">
<text x="911" y="73" style="font-size:18px;fill:#2E75B6;text-anchor:middle;">支持投票规则，特权</text>
<text x="911" y="94" style="font-size:18px;fill:#2E75B6;text-anchor:middle;">处理</text>
<text class="sec" x="130" y="200">10 会签</text>
<rect class="bx" x="360" y="172" width="126" height="48"/><text class="bt" x="423" y="196">环节A</text>
<rect class="bx" x="618" y="172" width="145" height="48"/><text class="bt" x="690.5" y="196">会签环节</text>
<rect class="bx" x="871" y="172" width="122" height="48"/><text class="bt" x="932" y="196">环节C</text>
</g>

<rect x="24.5" y="253.5" width="685" height="282" fill="#fff" fill-opacity="0.85" stroke="#9ab5c3" stroke-width="1"/>
<line x1="24.5" y1="254" x2="24.5" y2="535" stroke="#4f9a80" stroke-width="1.5"/>
<rect x="25" y="254" width="684" height="41" fill="#f0f0f0"/>
<path d="M29,295 L29,260 Q29,256 33,256 L190,256 Q194,256 194,260 L194,295" fill="#fff" stroke="#c8c8c8" stroke-width="1"/>
<line x1="25" y1="295" x2="29" y2="295" stroke="#c8c8c8"/>
<line x1="194" y1="295" x2="709" y2="295" stroke="#c8c8c8"/>
<g stroke="#e2e2e2" stroke-width="1">
<line x1="25" y1="347" x2="709" y2="347"/>
<line x1="25" y1="397" x2="709" y2="397"/>
<line x1="25" y1="447" x2="709" y2="447"/>
<line x1="25" y1="503" x2="709" y2="503"/>
<line x1="213" y1="295" x2="213" y2="503"/>
</g>
<g dominant-baseline="central">
<text x="111" y="275" style="font-size:19px;font-weight:bold;fill:#444;text-anchor:middle;">投票规则设置</text>
<text x="227" y="275" style="font-size:19px;fill:#1a8ac6;">特权功能设置</text>
<text class="fl" x="204" y="322" text-anchor="end">决策类型</text>
<text class="fl" x="204" y="372" text-anchor="end">后续处理模式</text>
<text class="fl" x="204" y="423" text-anchor="end">投票类型</text>
<text class="fl" x="204" y="475" text-anchor="end">票数:</text>
<text class="fl" x="241" y="325" style="fill:#333;">同意票</text>
<text class="fl" x="343" y="325" style="fill:#333;">否定票</text>
<text class="fl" x="241" y="375" style="fill:#333;">等待所有人投票</text>
<text class="fl" x="422" y="375" style="fill:#333;">直接处理</text>
<text class="fl" x="241" y="426" style="fill:#333;">绝对票数</text>
<text class="fl" x="363" y="426" style="fill:#333;">百分比</text>
</g>
<g stroke="#9a9a9a" stroke-width="1" fill="#f2f2f2">
<circle cx="230" cy="320" r="7"/><circle cx="332" cy="320" r="7"/>
<circle cx="231" cy="370" r="7"/>
<rect x="400" y="359" width="21" height="22" rx="3" fill="#dce7f5" stroke="#6a9ee0"/>
<circle cx="411" cy="370" r="7"/>
<circle cx="230" cy="421" r="7"/><circle cx="353" cy="421" r="7"/>
</g>
<g fill="#444"><circle cx="230" cy="320" r="3.5"/><circle cx="411" cy="370" r="3.5"/><circle cx="230" cy="421" r="3.5"/></g>
<rect x="223" y="457" width="254" height="38" rx="3" fill="#fff" stroke="#6cbd6c" stroke-width="2"/>
<text x="235" y="477" dominant-baseline="central" style="font-size:19px;fill:#333;">2</text>

<rect x="730.5" y="254.5" width="643" height="423" fill="#fff" fill-opacity="0.85" stroke="#9ab5c3" stroke-width="1"/>
<line x1="730.5" y1="254" x2="730.5" y2="677" stroke="#4f9a80" stroke-width="1.5"/>
<line x1="731" y1="255" x2="822" y2="255" stroke="#3f8a8a" stroke-width="1.5"/>
<rect x="731" y="255" width="642" height="24" fill="#eeeeee"/>
<rect x="818" y="257" width="76" height="23" fill="#fff" stroke="#cccccc"/>
<line x1="731" y1="279.5" x2="818" y2="279.5" stroke="#cfcfcf"/>
<line x1="894" y1="279.5" x2="1373" y2="279.5" stroke="#cfcfcf"/>
<rect x="731" y="309" width="129" height="368" fill="#f6f6f6"/>
<line x1="860" y1="280" x2="860" y2="677" stroke="#ececec"/>
<line x1="731" y1="309" x2="1373" y2="309" stroke="#eeeeee"/>
<g stroke="#ececec"><line x1="731" y1="417" x2="1373" y2="417"/><line x1="731" y1="524" x2="1373" y2="524"/><line x1="731" y1="632" x2="1373" y2="632"/></g>
<g dominant-baseline="central">
<text x="776" y="268" style="font-size:11px;fill:#1a8ac6;text-anchor:middle;">投票规则设置</text>
<text x="856" y="269" style="font-size:11px;fill:#444;text-anchor:middle;">特权功能设置</text>
<text x="796" y="294" style="font-size:14px;fill:#555;text-anchor:middle;">权限类型</text>
<text x="1115" y="294" style="font-size:14px;fill:#555;text-anchor:middle;">人员配置</text>
<text x="740" y="322" style="font-size:14px;font-weight:bold;fill:#333;">所有特权:</text>
<text x="740" y="429" style="font-size:14px;font-weight:bold;fill:#333;">直接处理:</text>
<text x="740" y="537" style="font-size:14px;font-weight:bold;fill:#333;">一票制:</text>
<text x="740" y="645" style="font-size:14px;font-weight:bold;fill:#333;">允许加签:</text>
</g>
<g>
<rect x="867.5" y="317.5" width="495" height="56" fill="#fff" stroke="#dddddd"/>
<rect x="868" y="318" width="494" height="24" fill="#e4e4e4"/>
<g stroke="#d0d0d0"><line x1="914" y1="318" x2="914" y2="342"/><line x1="1237" y1="318" x2="1237" y2="342"/><line x1="1284" y1="318" x2="1284" y2="342"/></g>
<rect x="872.5" y="346.5" width="80" height="22" fill="#f3f3f3" stroke="#cccccc"/>
<g dominant-baseline="central" style="font-size:11px;font-weight:bold;fill:#444;">
<text x="879" y="330">序号</text><text x="1075" y="330" text-anchor="middle">条件</text><text x="1260" y="330" text-anchor="middle">批次</text><text x="1323" y="330" text-anchor="middle">操作</text>
</g>
<text x="912" y="358" dominant-baseline="central" style="font-size:11px;fill:#444;text-anchor:middle;">+新增人员规则</text>
</g>
<g transform="translate(0,107)">
<rect x="867.5" y="317.5" width="495" height="56" fill="#fff" stroke="#dddddd"/>
<rect x="868" y="318" width="494" height="24" fill="#e4e4e4"/>
<g stroke="#d0d0d0"><line x1="914" y1="318" x2="914" y2="342"/><line x1="1237" y1="318" x2="1237" y2="342"/><line x1="1284" y1="318" x2="1284" y2="342"/></g>
<rect x="872.5" y="346.5" width="80" height="22" fill="#f3f3f3" stroke="#cccccc"/>
<g dominant-baseline="central" style="font-size:11px;font-weight:bold;fill:#444;">
<text x="879" y="330">序号</text><text x="1075" y="330" text-anchor="middle">条件</text><text x="1260" y="330" text-anchor="middle">批次</text><text x="1323" y="330" text-anchor="middle">操作</text>
</g>
<text x="912" y="358" dominant-baseline="central" style="font-size:11px;fill:#444;text-anchor:middle;">+新增人员规则</text>
</g>
<g transform="translate(0,215)">
<rect x="867.5" y="317.5" width="495" height="56" fill="#fff" stroke="#dddddd"/>
<rect x="868" y="318" width="494" height="24" fill="#e4e4e4"/>
<g stroke="#d0d0d0"><line x1="914" y1="318" x2="914" y2="342"/><line x1="1237" y1="318" x2="1237" y2="342"/><line x1="1284" y1="318" x2="1284" y2="342"/></g>
<rect x="872.5" y="346.5" width="80" height="22" fill="#f3f3f3" stroke="#cccccc"/>
<g dominant-baseline="central" style="font-size:11px;font-weight:bold;fill:#444;">
<text x="879" y="330">序号</text><text x="1075" y="330" text-anchor="middle">条件</text><text x="1260" y="330" text-anchor="middle">批次</text><text x="1323" y="330" text-anchor="middle">操作</text>
</g>
<text x="912" y="358" dominant-baseline="central" style="font-size:11px;fill:#444;text-anchor:middle;">+新增人员规则</text>
</g>
<g transform="translate(0,323)">
<rect x="867.5" y="317.5" width="495" height="36" fill="#fff" stroke="#dddddd"/>
<rect x="868" y="318" width="494" height="24" fill="#e4e4e4"/>
<g stroke="#d0d0d0"><line x1="914" y1="318" x2="914" y2="342"/><line x1="1237" y1="318" x2="1237" y2="342"/><line x1="1284" y1="318" x2="1284" y2="342"/></g>
<rect x="872.5" y="346.5" width="80" height="7" fill="#f3f3f3" stroke="#cccccc"/>
<g dominant-baseline="central" style="font-size:11px;font-weight:bold;fill:#444;">
<text x="879" y="330">序号</text><text x="1075" y="330" text-anchor="middle">条件</text><text x="1260" y="330" text-anchor="middle">批次</text><text x="1323" y="330" text-anchor="middle">操作</text>
</g>
</g>
<line x1="730" y1="677.5" x2="1374" y2="677.5" stroke="#9ab5c3" stroke-width="1"/>

<path d="M488,788 Q503,755 532,749 L868,749 Q898,755 915,788 Z" fill="url(#fg)"/>
<path d="M500,786 C580,760 690,792 900,762" stroke="#7fb6ee" stroke-opacity="0.35" stroke-width="2" fill="none"/>
<path d="M520,770 C620,790 760,750 890,785" stroke="#7fb6ee" stroke-opacity="0.25" stroke-width="1.5" fill="none"/>
<text class="ft" x="558" y="775">突破</text><text class="ft" x="611" y="775">创新</text>
<circle cx="670" cy="769" r="10" fill="none" stroke="#fff" stroke-width="3" stroke-dasharray="11,5"/>
<text x="718" y="767" style="font-size:14px;fill:#fff;text-anchor:middle;">汉思信息</text>
<text x="718" y="781" style="font-size:9px;fill:#fff;text-anchor:middle;">HanThink</text>
<text class="ft" x="790" y="775">开拓</text><text class="ft" x="843" y="775">沟通</text>
</g>
</svg>
</body></html>
